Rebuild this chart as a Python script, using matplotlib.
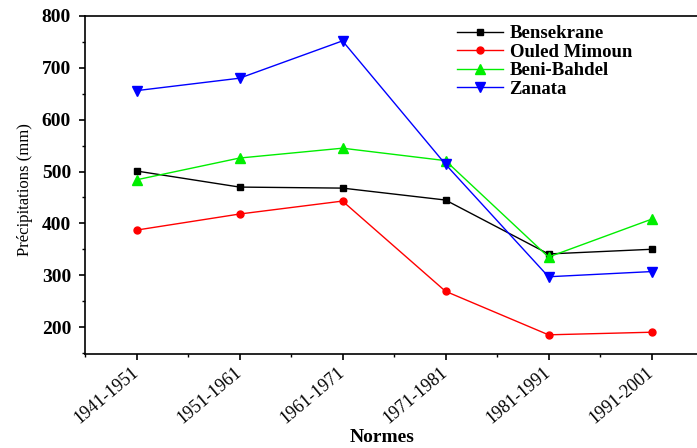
import numpy as np
import matplotlib
matplotlib.use('Agg')
import matplotlib.pyplot as plt
from matplotlib.ticker import MultipleLocator

periods = ['1941-1951', '1951-1961', '1961-1971', '1971-1981', '1981-1991', '1991-2001']
bensekrane = [501, 470, 468, 445, 341, 350]
ouled_mimoun = [387, 418, 443, 269, 185, 190]
beni_bahdel = [484, 526, 545, 521, 335, 408]
zanata = [656, 680, 752, 514, 297, 307]

plt.rcParams['font.family'] = ['Liberation Serif', 'DejaVu Serif']

fig = plt.figure(figsize=(6.97, 4.48), dpi=100)
# axes runs past the right edge of the picture, as in the reference
ax = fig.add_axes([85 / 697, 94 / 448, 618 / 697, 338 / 448])

x = np.arange(len(periods))
ax.plot(x, bensekrane, color='black', marker='s', markersize=5, linewidth=1, label='Bensekrane')
ax.plot(x, ouled_mimoun, color='red', marker='o', markersize=5, linewidth=1, label='Ouled Mimoun')
ax.plot(x, beni_bahdel, color='#00ee00', marker='^', markersize=7, linewidth=1, label='Beni-Bahdel')
ax.plot(x, zanata, color='blue', marker='v', markersize=7, linewidth=1, label='Zanata')

ax.set_xlim(-0.5, 5.5)
ax.set_ylim(148, 800)
ax.set_xticks(x)
ax.set_xticklabels(periods, rotation=40, ha='right', va='center',
                   rotation_mode='anchor', fontsize=13)
ax.xaxis.set_minor_locator(MultipleLocator(0.5))
ax.yaxis.set_major_locator(MultipleLocator(100))
ax.yaxis.set_minor_locator(MultipleLocator(50))
ax.tick_params(axis='both', which='major', direction='out', length=4, width=1.2)
ax.tick_params(axis='both', which='minor', direction='out', length=2.5, width=1)
ax.tick_params(axis='x', which='major', pad=8)
ax.tick_params(axis='y', which='major', pad=6)
for lbl in ax.get_yticklabels():
    lbl.set_fontweight('bold')
    lbl.set_fontsize(14)

ax.spines['right'].set_visible(False)
for s in ['left', 'bottom', 'top']:
    ax.spines[s].set_linewidth(1.2)

ax.set_ylabel('Précipitations (mm)', fontsize=12)
ax.yaxis.set_label_coords((33 - 85) / 618, (354 - 190) / 338)
ax.set_xlabel('Normes', fontsize=14, fontweight='bold', va='center')
ax.xaxis.set_label_coords((382 - 85) / 618, -(437 - 354) / 338)

ax.legend(loc='upper left', bbox_to_anchor=((457 - 85) / 618, (354 - 25) / 338),
          frameon=False, borderaxespad=0, borderpad=0,
          prop={'weight': 'bold', 'size': 13.5}, handlelength=2.45,
          labelspacing=0.08, handletextpad=0.35)

fig.savefig('out.png', dpi=100)
